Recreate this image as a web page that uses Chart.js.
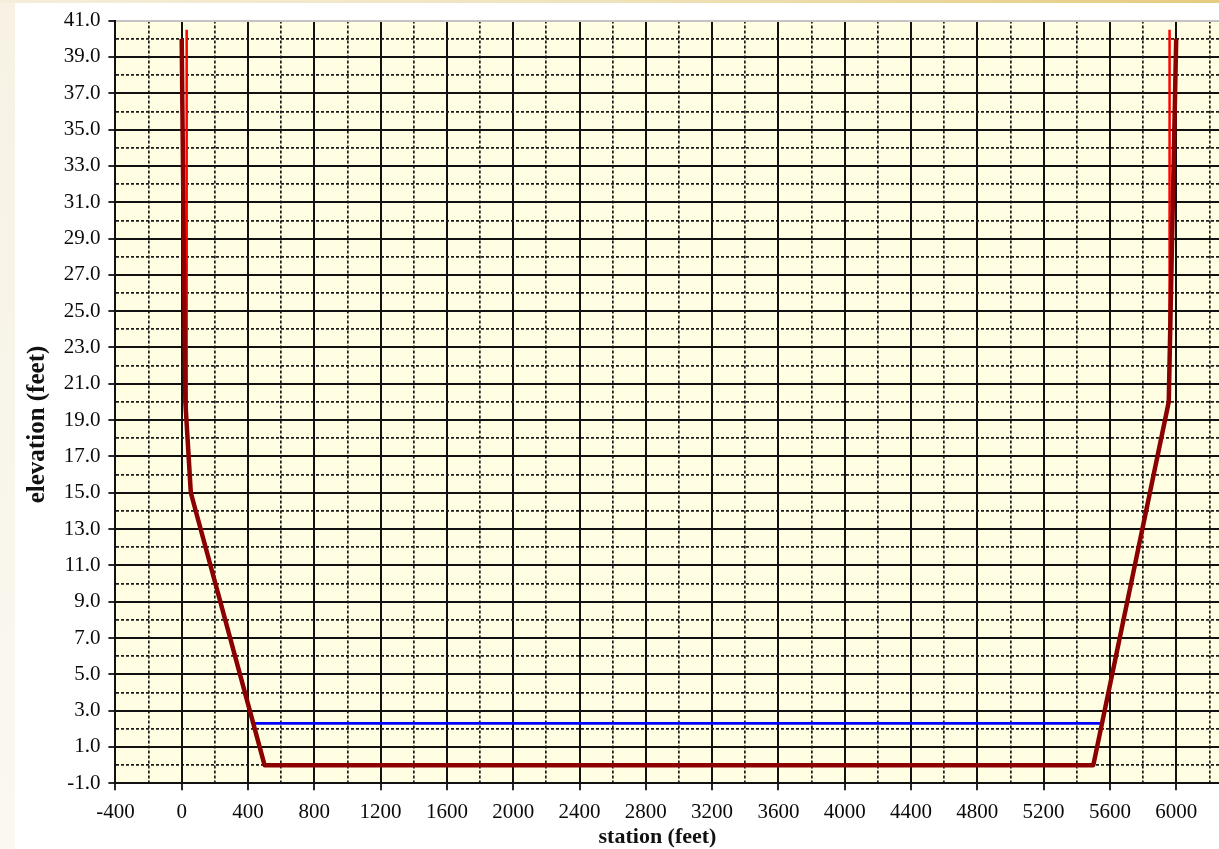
<!DOCTYPE html>
<html><head><meta charset="utf-8">
<script src="https://cdn.jsdelivr.net/npm/chart.js@4.4.0/dist/chart.umd.min.js"></script>
<style>
html,body{margin:0;padding:0;overflow:hidden;width:1219px;height:849px;background:#fff;}
#strip{position:absolute;left:0;top:0;width:15px;height:849px;background:linear-gradient(#f7f2e4,#faf8f1);z-index:2;}
#topbar{position:absolute;left:0;top:0;width:1219px;height:3px;background:linear-gradient(to right,#f5eedb,#efe3bb 50%,#e5cb7e);z-index:3;}
#wrap{position:absolute;left:15px;top:0;width:1285px;height:849px;z-index:1;}
</style></head>
<body>
<div id="strip"></div><div id="topbar"></div>
<div id="wrap"><canvas id="c" width="1285" height="849"></canvas></div>
<script>
// ground profile
const groundStation = [0, 22, 55, 500, 5500, 5955, 6000];
const groundElev    = [40, 20, 15, 0, 0, 20, 40];
// bank / levee markers
const leftBankStation  = [30, 30];
const leftBankElev     = [40.5, 19];
const rightBankStation = [5960, 5960];
const rightBankElev    = [40.5, 22];
// water surface
const waterStation = [440, 5540];
const waterElev    = [2.3, 2.3];
// axes
const xMin = -400, xMax = 6400, xMinorStep = 200, xMajorStep = 400;
const yMin = -1, yMax = 41, yMinorStep = 1;
const xTitle = 'station (feet)';
const yTitle = 'elevation (feet)';

const pts = (xs, ys) => xs.map((x, i) => ({x: x, y: ys[i]}));
const FONT = "'Liberation Serif', 'Times New Roman', serif";

const isXMajor = v => Math.abs(v % xMajorStep) < 1e-9;
const isYMajor = v => Math.abs(Math.round(v)) % 2 === 1;

const bgPlugin = {
  id: 'plotBg',
  beforeDraw(chart) {
    const a = chart.chartArea, ctx = chart.ctx;
    ctx.save();
    ctx.fillStyle = '#fffde2';
    ctx.fillRect(a.left, a.top, a.right - a.left, a.bottom - a.top);
    ctx.restore();
  }
};

new Chart(document.getElementById('c'), {
  type: 'line',
  data: {
    datasets: [
      { data: pts(groundStation, groundElev), borderColor: '#8b0000', borderWidth: 4.5, pointRadius: 0, tension: 0, fill: false, borderJoinStyle: 'round' },
      { data: pts(leftBankStation, leftBankElev), borderColor: '#ff0000', borderWidth: 2.5, pointRadius: 0, fill: false },
      { data: pts(rightBankStation, rightBankElev), borderColor: '#ff0000', borderWidth: 2.5, pointRadius: 0, fill: false },
      { data: pts(waterStation, waterElev), borderColor: '#0000ff', borderWidth: 2.6, pointRadius: 0, fill: false }
    ]
  },
  options: {
    responsive: false,
    animation: false,
    devicePixelRatio: 1,
    layout: { padding: 0 },
    plugins: {
      legend: { display: false },
      tooltip: { enabled: false },
      title: {
        display: true, position: 'left', text: yTitle, color: '#111',
        font: { family: FONT, size: 25, weight: 'bold', lineHeight: 1.1 },
        padding: { top: 8.7, bottom: 0 }
      },
      subtitle: {
        display: true, position: 'bottom', text: xTitle, color: '#111',
        font: { family: FONT, size: 22, weight: 'bold', lineHeight: 1.1 },
        padding: { top: 0, bottom: 0 }
      }
    },
    scales: {
      x: {
        type: 'linear', position: 'bottom', min: xMin, max: xMax,
        afterFit: s => { s.height = 849 - 24.2 - 783.3; },
        ticks: {
          stepSize: xMinorStep, autoSkip: false, maxRotation: 0, minRotation: 0,
          padding: 10, color: '#0a0a0a', font: { family: FONT, size: 21 },
          callback: v => isXMajor(v) ? String(v) : ''
        },
        grid: {
          color: c => (c.tick && isXMajor(c.tick.value)) ? '#111' : '#1c1c1c',
          lineWidth: c => (c.tick && isXMajor(c.tick.value)) ? 2 : 1.7,
          tickLength: 7, tickWidth: 1.8,
          tickColor: c => (c.tick && isXMajor(c.tick.value)) ? '#111' : 'rgba(0,0,0,0)'
        },
        border: {
          display: true, color: '#111', width: 2,
          dash: c => (c.tick && !isXMajor(c.tick.value)) ? [3, 2] : []
        }
      },
      xTop: {
        type: 'linear', position: 'top', min: xMin, max: xMax, display: true,
        afterFit: s => { s.height = 17; },
        ticks: { display: false }, grid: { display: false }, border: { display: false }
      },
      y: {
        type: 'linear', position: 'left', min: yMin, max: yMax,
        afterFit: s => { s.width = 100.4 - 36.2; },
        ticks: {
          stepSize: yMinorStep, autoSkip: false, padding: 8,
          color: '#0a0a0a', font: { family: FONT, size: 21 },
          callback: v => isYMajor(v) ? v.toFixed(1) : ''
        },
        grid: {
          color: c => {
            if (!c.tick) return '#111';
            if (c.tick.value === yMax) return '#c4c4c4';
            return isYMajor(c.tick.value) ? '#111' : '#1c1c1c';
          },
          lineWidth: c => (c.tick && isYMajor(c.tick.value)) ? 2 : 1.7,
          tickLength: 7, tickWidth: 1.8,
          tickColor: c => (c.tick && isYMajor(c.tick.value)) ? '#111' : 'rgba(0,0,0,0)'
        },
        border: {
          display: true, color: '#111', width: 2,
          dash: c => (c.tick && !isYMajor(c.tick.value)) ? [3, 2] : []
        }
      },
      yRight: {
        type: 'linear', position: 'right', min: yMin, max: yMax, display: true,
        afterFit: s => { s.width = 1285 - 1227.5; },
        ticks: { display: false }, grid: { display: false }, border: { display: false }
      }
    }
  },
  plugins: [bgPlugin]
});
</script>
</body></html>
